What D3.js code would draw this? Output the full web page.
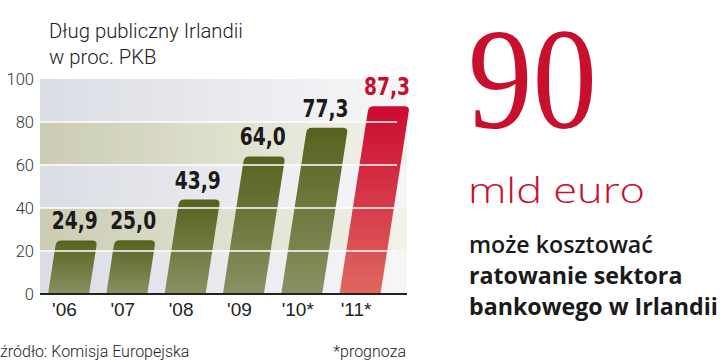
<!DOCTYPE html>
<html>
<head>
<meta charset="utf-8">
<script src="https://cdn.jsdelivr.net/npm/d3@7"></script>
<style>
  html, body { margin: 0; padding: 0; background: #fff; }
  svg { display: block; }
</style>
</head>
<body>
<div id="chart"></div>
<script>
// chart data
const years = ["'06", "'07", "'08", "'09", "'10*", "'11*"];
const debt = [24.9, 25.0, 43.9, 64.0, 77.3, 87.3];
const highlightYear = "'11*";
const yTicks = [0, 20, 40, 60, 80, 100];
const titleLines = ["Dług publiczny Irlandii", "w proc. PKB"];
const bigNumber = "90";
const bigUnit = "mld euro";
const sideLines = ["może kosztować", "ratowanie sektora", "bankowego w Irlandii"];
const sourceText = "źródło: Komisja Europejska";
const noteText = "*prognoza";

const width = 720, height = 361;
const plot = {left: 40, right: 407, top: 79, bottom: 294};
const slant = 0.155;   // bars lean to the right
const red = "#c8102e";

const svg = d3.select("#chart").append("svg")
  .attr("width", width)
  .attr("height", height);

const defs = svg.append("defs");

// background fades to white on the right
function hGrad(id, c0, c1) {
  const g = defs.append("linearGradient").attr("id", id)
    .attr("x1", 0).attr("x2", 1).attr("y1", 0).attr("y2", 0);
  g.append("stop").attr("offset", 0).attr("stop-color", c0);
  g.append("stop").attr("offset", 1).attr("stop-color", c1);
}
hGrad("bgGray", "#dadde4", "#f7f7f8");
hGrad("bgOlive", "#cbccb2", "#f3f3ec");

function vGrad(id, c0, c1) {
  const g = defs.append("linearGradient").attr("id", id)
    .attr("x1", 0).attr("x2", 0).attr("y1", 0).attr("y2", 1);
  g.append("stop").attr("offset", 0).attr("stop-color", c0);
  g.append("stop").attr("offset", 1).attr("stop-color", c1);
}
vGrad("barOlive", "#58621f", "#8a9062");
vGrad("barRed", "#cc0a32", "#e0675f");

const x = d3.scaleBand()
  .domain(years)
  .range([48, 48 + 5 * 58.3 + 41])
  .paddingInner(0.297)
  .paddingOuter(0);

const y = d3.scaleLinear()
  .domain([0, 100])
  .range([plot.bottom, plot.top]);

const fmt = d3.formatLocale({decimal: ",", thousands: " ", grouping: [3], currency: ["", ""]}).format(".1f");

// background bands
const bands = d3.pairs(yTicks);
svg.append("g").selectAll("rect")
  .data(bands)
  .enter()
  .append("rect")
  .attr("x", plot.left)
  .attr("y", d => y(d[1]))
  .attr("width", plot.right - plot.left)
  .attr("height", d => y(d[0]) - y(d[1]))
  .attr("fill", (d, i) => i % 2 === 1 ? "url(#bgOlive)" : "url(#bgGray)");

// slanted bars with rounded tops
function barPath(d, i) {
  const w = x.bandwidth();
  const x0 = x(years[i]);
  const y0 = y(0), yt = y(d);
  const s = slant * (y0 - yt);
  const r = 5;
  return [
    "M", x0, y0,
    "L", x0 + s - slant * r, yt + r,
    "Q", x0 + s, yt, x0 + s + r, yt,
    "L", x0 + s + w - r, yt,
    "Q", x0 + s + w, yt, x0 + s + w - slant * r, yt + r,
    "L", x0 + w, y0,
    "Z"
  ].join(" ");
}

svg.append("g").selectAll("path")
  .data(debt)
  .enter()
  .append("path")
  .attr("d", barPath)
  .attr("fill", (d, i) => years[i] === highlightYear ? "url(#barRed)" : "url(#barOlive)");

// white gridlines over the bars
svg.append("g").selectAll("line")
  .data(yTicks.filter(t => t > 0 && t < 100))
  .enter()
  .append("line")
  .attr("x1", plot.left)
  .attr("x2", plot.right - 10)
  .attr("y1", d => y(d))
  .attr("y2", d => y(d))
  .attr("stroke", "#fff")
  .attr("stroke-width", 1.6);

// baseline
svg.append("line")
  .attr("x1", plot.left).attr("x2", plot.right)
  .attr("y1", y(0)).attr("y2", y(0))
  .attr("stroke", "#222")
  .attr("stroke-width", 2);

// y axis labels
const yAxis = svg.append("g")
  .attr("transform", "translate(" + (plot.left - 6) + ",0)")
  .call(d3.axisLeft(y).tickValues(yTicks).tickSize(0).tickPadding(0));
yAxis.select(".domain").remove();
yAxis.selectAll("text")
  .attr("font-family", "Roboto, 'Liberation Sans', sans-serif")
  .attr("font-weight", 300)
  .attr("font-size", 16.5)
  .attr("fill", "#333");

// x axis labels
const xAxis = svg.append("g")
  .attr("transform", "translate(-4," + (y(0) + 6) + ")")
  .call(d3.axisBottom(x).tickSize(0).tickPadding(0));
xAxis.select(".domain").remove();
xAxis.selectAll("text")
  .attr("dy", "0.85em")
  .attr("font-family", "'Liberation Sans', Arial, sans-serif")
  .attr("font-size", 19)
  .attr("fill", "#222");

// value labels
svg.append("g").selectAll("text")
  .data(debt)
  .enter()
  .append("text")
  .attr("x", (d, i) => x(years[i]) + slant * (y(0) - y(d)) + x.bandwidth() / 2 - 2)
  .attr("y", d => y(d) - 11)
  .attr("text-anchor", "middle")
  .attr("font-family", "'Liberation Sans Narrow', 'DejaVu Sans Condensed', sans-serif")
  .attr("font-weight", "bold")
  .attr("font-size", 25)
  .attr("textLength", 46)
  .attr("lengthAdjust", "spacingAndGlyphs")
  .attr("fill", (d, i) => years[i] === highlightYear ? red : "#1a1a1a")
  .text(d => fmt(d));

// title
svg.append("g").selectAll("text")
  .data(titleLines)
  .enter()
  .append("text")
  .attr("x", 49)
  .attr("y", (d, i) => 38 + i * 26)
  .attr("font-family", "Roboto, 'Liberation Sans', sans-serif")
  .attr("font-weight", 300)
  .attr("font-size", 20.3)
  .attr("fill", "#222")
  .text(d => d);

// footer
svg.append("text")
  .attr("x", 0).attr("y", 357)
  .attr("font-family", "Roboto, 'Liberation Sans', sans-serif")
  .attr("font-weight", 300)
  .attr("font-size", 16)
  .attr("fill", "#222")
  .text(sourceText);
svg.append("text")
  .attr("x", 406).attr("y", 357)
  .attr("text-anchor", "end")
  .attr("font-family", "Roboto, 'Liberation Sans', sans-serif")
  .attr("font-weight", 300)
  .attr("font-size", 16)
  .attr("fill", "#222")
  .text(noteText);

// right hand side
svg.append("text")
  .attr("x", 468).attr("y", 128)
  .attr("font-family", "'Liberation Serif', 'DejaVu Serif', serif")
  .attr("font-size", 144)
  .attr("textLength", 129)
  .attr("lengthAdjust", "spacingAndGlyphs")
  .attr("fill", red)
  .text(bigNumber);

svg.append("text")
  .attr("x", 468).attr("y", 203)
  .attr("font-family", "'Open Sans', Lato, sans-serif")
  .attr("font-weight", 300)
  .attr("font-size", 34)
  .attr("textLength", 177)
  .attr("lengthAdjust", "spacingAndGlyphs")
  .attr("fill", red)
  .text(bigUnit);

svg.append("g").selectAll("text")
  .data(sideLines)
  .enter()
  .append("text")
  .attr("x", 469)
  .attr("y", (d, i) => 253 + i * 31)
  .attr("font-family", "'Open Sans', Lato, sans-serif")
  .attr("font-weight", (d, i) => i === 0 ? 600 : 700)
  .attr("font-size", 23.2)
  .attr("fill", "#1a1a1a")
  .text(d => d);
</script>
</body>
</html>
